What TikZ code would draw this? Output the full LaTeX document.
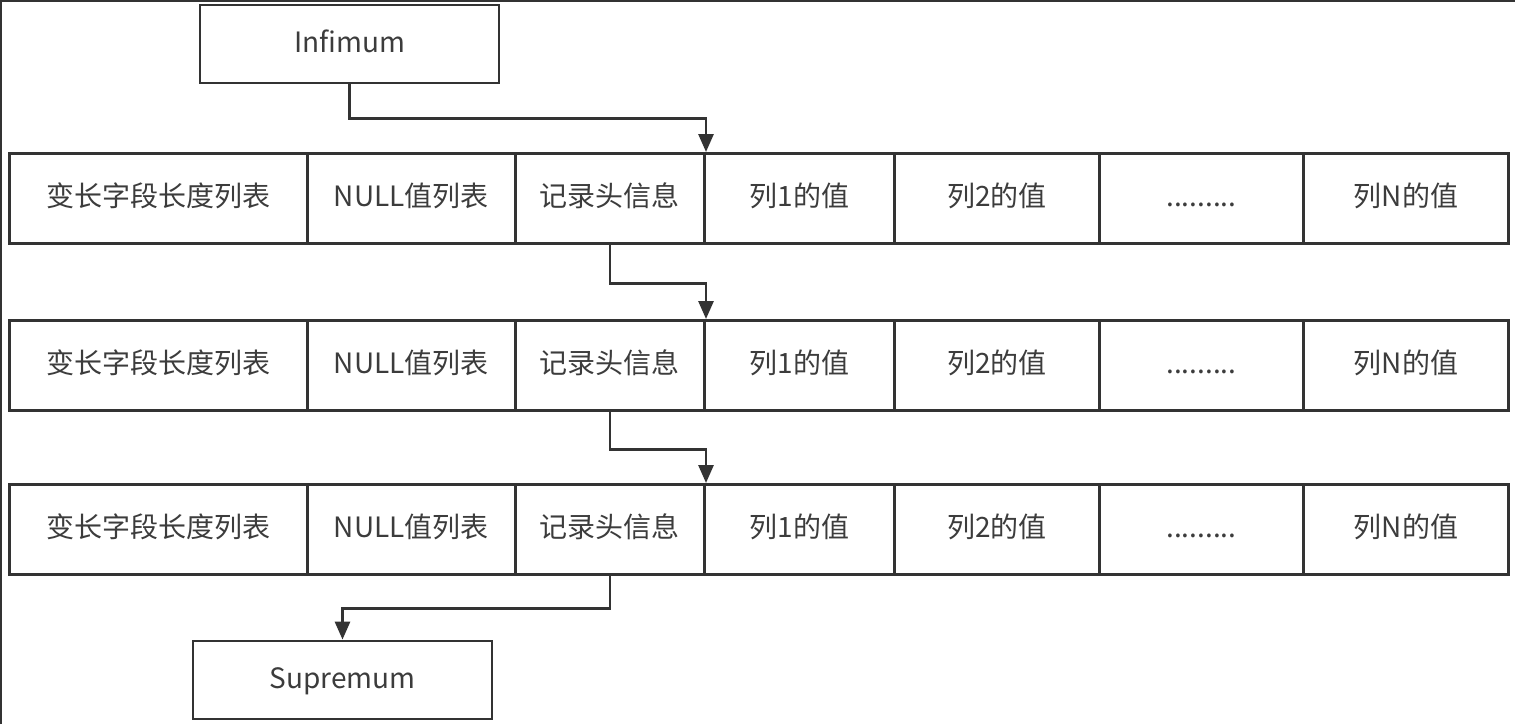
\documentclass[tikz,border=0pt]{standalone}
\usepackage{fontspec}
\setmainfont{Noto Sans CJK SC}
\usetikzlibrary{arrows.meta}
\definecolor{ln}{HTML}{333333}
\definecolor{tx}{HTML}{3C3C3C}
\tikzset{
  cell/.style={draw=ln, line width=2.8pt, rectangle, anchor=north west, minimum height=90pt, inner sep=0pt, text height=22pt, text depth=5pt, text=tx, font=\fontsize{28}{32}\selectfont},
  endbox/.style={draw=ln, line width=2.8pt, rectangle, minimum width=299pt, minimum height=78pt, inner sep=0pt, text height=22pt, text depth=5pt, text=tx, font=\fontsize{28}{32}\selectfont},
  arr/.style={draw=ln, line width=2.8pt, -{Triangle[length=18pt,width=15pt]}},
}
\begin{document}
\begin{tikzpicture}[x=1pt,y=-1pt]
\useasboundingbox (0,0) rectangle (1515,724);
\fill[white] (0,0) rectangle (1515,724);
\draw[ln, line width=2pt] (1,724) -- (1,1) -- (1515,1);
\node[endbox] (inf) at (349.5,44) {Infimum};
\foreach \r/\y in {1/152, 2/319, 3/483} {
  \node[cell, minimum width=298pt] (r\r c1) at (8,\y) {变长字段长度列表};
  \node[cell, minimum width=208pt] (r\r c2) at (306,\y) {NULL值列表};
  \node[cell, minimum width=189pt] (r\r c3) at (514,\y) {记录头信息};
  \node[cell, minimum width=190pt] (r\r c4) at (703,\y) {列1的值};
  \node[cell, minimum width=205pt] (r\r c5) at (893,\y) {列2的值};
  \node[cell, minimum width=204pt] (r\r c6) at (1098,\y) {.........};
  \node[cell, minimum width=205pt] (r\r c7) at (1302,\y) {列N的值};
}
\node[endbox] (sup) at (342.5,680) {Supremum};
\draw[arr] (inf.south) -- ++(0,34) -| ([xshift=3pt]r1c4.north west);
\draw[arr] (r1c3.south) -- ++(0,39) -| ([xshift=3pt]r2c4.north west);
\draw[arr] (r2c3.south) -- ++(0,38) -| ([xshift=3pt]r3c4.north west);
\draw[arr] (r3c3.south) -- ++(0,33) -| (sup.north);
\end{tikzpicture}
\end{document}
